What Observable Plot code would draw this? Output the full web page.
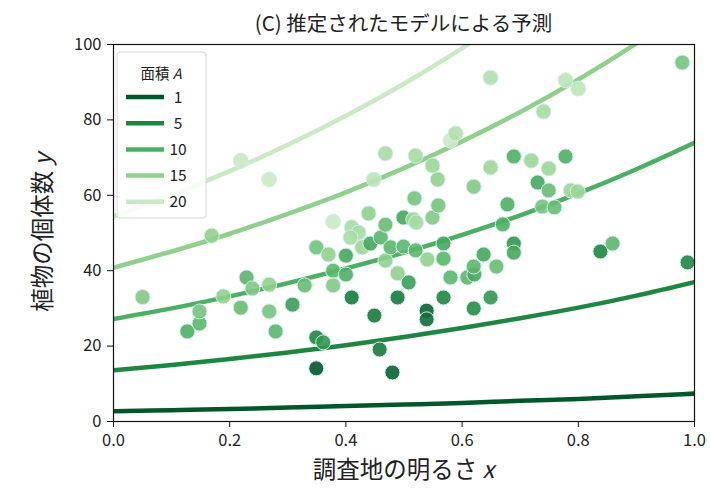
<!DOCTYPE html>
<html>
<head>
<meta charset="utf-8">
<script src="https://cdn.jsdelivr.net/npm/d3@7"></script>
<script src="https://cdn.jsdelivr.net/npm/@observablehq/plot@0.6"></script>
<style>
  html, body { margin: 0; padding: 0; background: #fff; }
  #chart svg { display: block; }
</style>
</head>
<body>
<div id="chart"></div>
<script>
// ---- data ----
const title = "(C) 推定されたモデルによる予測";
const xLabel = "調査地の明るさ ";
const yLabel = "植物の個体数 ";
const legendTitle = "面積 ";
const areas = [1, 5, 10, 15, 20];
const areaColors = ["#00582a", "#1d8641", "#4cb062", "#8fd18b", "#c9eac2"];
const xTicks = [0, 0.2, 0.4, 0.6, 0.8, 1.0];
const yTicks = [0, 20, 40, 60, 80, 100];

// predicted curves, read at x = 0, 0.1, ..., 1.0
const curveX = [0, 0.1, 0.2, 0.3, 0.4, 0.5, 0.6, 0.7, 0.8, 0.9, 1.0];
const curveA1  = [2.7, 3.0, 3.3, 3.7, 4.1, 4.5, 4.9, 5.5, 6.0, 6.7, 7.4];
const curveA5  = [13.6, 15.0, 16.6, 18.3, 20.2, 22.4, 24.8, 27.4, 30.2, 33.4, 37.0];
const curveA10 = [27.2, 30.0, 33.2, 36.7, 40.6, 44.8, 49.5, 54.7, 60.5, 66.9, 73.9];
const curveA15 = [40.8, 45.1, 49.8, 55.1, 60.8, 67.2, 74.3, 82.1, 90.7, 100.3, 110.8];
const curveA20 = [54.4, 60.1, 66.4, 73.4, 81.1, 89.6, 99.0, 109.4, 120.9, 133.6, 147.8];

// observed plots
const ptX = [0.05,0.127,0.148,0.148,0.169,0.189,0.219,0.229,0.239,0.268,
  0.268,0.279,0.308,0.329,0.349,0.361,0.349,0.349,0.37,0.378,
  0.378,0.378,0.40,0.40,0.41,0.41,0.422,0.408,0.428,0.439,
  0.442,0.449,0.458,0.46,0.468,0.448,0.468,0.468,0.477,0.48,
  0.489,0.489,0.499,0.499,0.508,0.516,0.521,0.518,0.52,0.52,
  0.54,0.539,0.539,0.549,0.558,0.549,0.559,0.568,0.568,0.568,
  0.58,0.58,0.589,0.609,0.621,0.62,0.62,0.62,0.637,0.649,
  0.649,0.649,0.659,0.67,0.678,0.689,0.689,0.689,0.719,0.73,
  0.74,0.738,0.759,0.749,0.749,0.778,0.778,0.787,0.799,0.80,
  0.838,0.859,0.979,0.988,0.219,0.268];
const ptY = [33.0,23.9,26.0,29.2,49.3,33.2,30.2,38.2,35.3,36.3,
  29.2,23.9,31.0,36.1,22.3,21.0,14.1,46.2,44.3,40.0,
  36.1,53.0,39.0,44.0,32.9,51.5,50.1,48.8,46.2,55.2,
  47.2,28.1,19.1,48.8,71.1,64.2,52.2,42.7,46.2,13.0,
  32.9,39.3,46.4,54.1,36.9,53.6,52.8,59.2,70.5,45.4,
  43.0,29.4,27.1,67.9,64.2,54.1,57.3,47.2,43.2,32.9,
  38.2,74.5,76.4,38.2,39.0,41.1,62.3,30.0,44.3,32.9,
  91.2,67.4,41.1,52.3,57.6,70.3,47.2,44.8,69.2,63.4,
  82.2,57.0,56.8,67.1,61.3,70.3,90.5,61.3,61.0,88.3,
  45.1,47.2,95.2,42.2,69.2,64.2];
const ptA = [14,10,11,13,15,15,12,11,14,15,
  13,11,8,12,5,7,1,13,15,11,
  14,20,10,9,4,17,17,17,16,15,
  9,4,4,11,17,19,12,15,11,2,
  4,15,11,9,8,16,17,13,17,11,
  15,2,3,16,15,14,13,9,11,5,
  11,20,18,11,9,11,14,6,9,7,
  18,16,12,10,10,10,7,9,16,9,
  17,13,12,16,12,10,19,16,16,19,
  5,11,13,5,20,20];

// ---- tables built from the arrays ----
const points = ptX.map((x, i) => ({x, y: ptY[i], A: ptA[i]}));
const curveSets = [curveA1, curveA5, curveA10, curveA15, curveA20];
const curves = curveSets.flatMap((ys, k) => curveX.map((x, i) => ({x, y: ys[i], A: areas[k]})));

const W = 710, H = 494;
const mL = 113, mR = 16, mT = 44, mB = 73;
const FONT = "'Noto Sans CJK JP', 'DejaVu Sans', sans-serif";

const chart = Plot.plot({
  width: W, height: H,
  marginLeft: mL, marginRight: mR, marginTop: mT, marginBottom: mB,
  style: {fontFamily: FONT, fontSize: "16.5px", color: "#222", background: "#fff"},
  x: {domain: [0, 1]},
  y: {domain: [0, 100]},
  color: {type: "linear", domain: areas, range: areaColors},
  marks: [
    Plot.line(curves, {x: "x", y: "y", z: "A", stroke: "A", strokeWidth: 4.5, curve: "natural", clip: true}),
    Plot.dot(points, {x: "x", y: "y", r: 7.5, fill: "A", fillOpacity: 0.9, stroke: "#d3eef0", strokeWidth: 1}),
    Plot.frame({stroke: "#111", strokeWidth: 1.2}),
    Plot.axisX({ticks: xTicks, tickFormat: d3.format(".1f"), tickSize: 6, tickPadding: 7, label: null, stroke: "#111"}),
    Plot.axisY({ticks: yTicks, tickSize: 6, tickPadding: 6, label: null, stroke: "#111"})
  ]
});
document.getElementById("chart").appendChild(chart);

const svg = d3.select(chart);
const cx = mL + (W - mL - mR) / 2;
const cy = mT + (H - mT - mB) / 2;

// title
svg.append("text").attr("x", cx).attr("y", 31).attr("text-anchor", "middle")
  .style("font-family", FONT).style("font-size", "20.5px").attr("fill", "#222").text(title);

// x label
const xl = svg.append("text").attr("x", cx).attr("y", 478).attr("text-anchor", "middle")
  .style("font-family", FONT).style("font-size", "23.5px").attr("fill", "#222");
xl.append("tspan").text(xLabel);
xl.append("tspan").style("font-style", "italic").text("x");

// y label
const yl = svg.append("text").attr("transform", `translate(51,${cy}) rotate(-90)`).attr("text-anchor", "middle")
  .style("font-family", FONT).style("font-size", "23.5px").attr("fill", "#222");
yl.append("tspan").text(yLabel);
yl.append("tspan").style("font-style", "italic").text("y");

// legend
const lg = svg.append("g").style("font-family", FONT);
lg.append("rect").attr("x", 117).attr("y", 52).attr("width", 89).attr("height", 166)
  .attr("rx", 3).attr("fill", "#fff").attr("fill-opacity", 0.85).attr("stroke", "#d6d6d6");
const lt = lg.append("text").attr("x", 161).attr("y", 79).attr("text-anchor", "middle")
  .style("font-size", "14.5px").attr("fill", "#222");
lt.append("tspan").text(legendTitle);
lt.append("tspan").style("font-style", "italic").text("A");
areas.forEach((a, i) => {
  const yy = 97 + i * 26.2;
  lg.append("line").attr("x1", 126).attr("x2", 164).attr("y1", yy).attr("y2", yy)
    .attr("stroke", chart.scale("color").apply(a)).attr("stroke-width", 4.5);
  lg.append("text").attr("x", 178).attr("y", yy + 5.5).style("font-size", "15.5px")
    .attr("fill", "#222").text(a);
});
</script>
</body>
</html>
